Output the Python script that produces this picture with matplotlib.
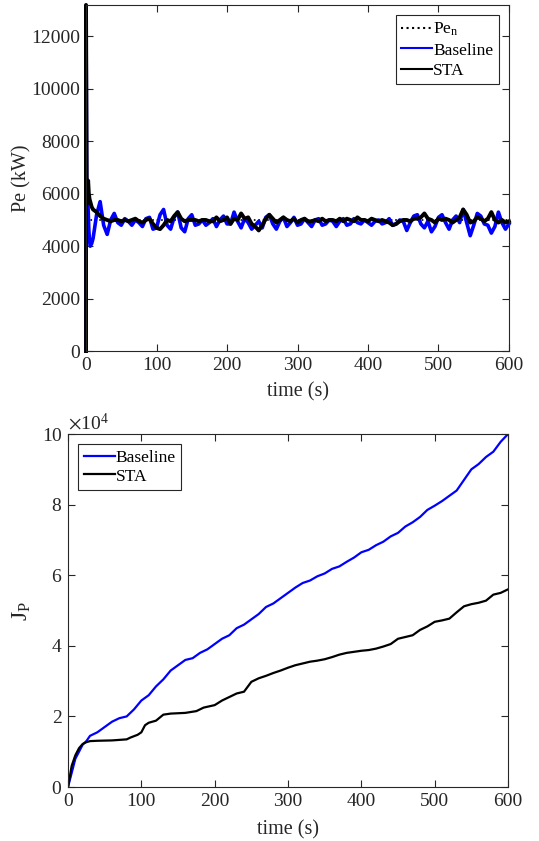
import numpy as np
import matplotlib
matplotlib.use("Agg")
import matplotlib.pyplot as plt
from matplotlib.ticker import ScalarFormatter

plt.rcParams['font.family'] = ['Liberation Serif', 'DejaVu Serif']
plt.rcParams['mathtext.fontset'] = 'stix'
plt.rcParams['font.size'] = 14

# ---- top panel: electrical power ----
t_early = [0, 0, 1, 2, 3, 4, 5, 6, 8]
base_early = [0, 13200, 5500, 5900, 5400, 4600, 4200, 4000, 4100]
sta_early = [0, 13200, 5600, 6000, 6500, 6000, 5800, 5700, 5500]

t_grid = list(range(10, 601, 5))
base_pe = [4300, 5200, 5700, 4800, 4450, 5000, 5250, 4900, 4800, 5050,
           4950, 4800, 5000, 4900, 4750, 5050, 5100, 4650, 4700, 5200,
           5400, 4800, 4650, 5100, 5300, 4700, 4550, 5050, 5200, 4800,
           4850, 5000, 4800, 4900, 5050, 4750, 5000, 5150, 4850, 4850,
           5300, 4950, 4700, 5050, 4900, 4650, 4800, 4950, 4700, 5100,
           5200, 4850, 4650, 4950, 5100, 4750, 4900, 5100, 4800, 4850,
           5050, 4900, 4750, 5000, 5050, 4800, 4850, 5000, 4950, 4750,
           4950, 5050, 4800, 4850, 5050, 4900, 4850, 5000, 4900, 4800,
           4950, 5000, 4850, 4900, 5050, 4800, 4850, 5000, 4950, 4600,
           4900, 5150, 5200, 4850, 4700, 4950, 4550, 4750, 5100, 5200,
           4900, 4650, 5000, 5150, 4900, 5400, 4900, 4400, 4800, 5250,
           5150, 4850, 4800, 4500, 4750, 5300, 4900, 4650, 4850]
sta_pe = [5400, 5300, 5150, 5050, 5000, 4950, 5000, 5000, 4950, 5000,
          4950, 5000, 5050, 4950, 4900, 5000, 5050, 4850, 4700, 4650,
          4800, 5000, 4950, 5150, 5300, 5050, 4950, 5000, 5000, 5000,
          4950, 5000, 5000, 4950, 4950, 5100, 4950, 5000, 5100, 4850,
          5050, 5000, 5250, 5050, 5100, 4850, 4750, 4600, 4800, 5050,
          5200, 5050, 4900, 5000, 5100, 5000, 4950, 5050, 4900, 5000,
          5050, 4950, 4950, 5000, 4950, 5050, 4950, 5000, 5000, 4950,
          5050, 4950, 5050, 5000, 4950, 5100, 5000, 5000, 4950, 5050,
          5000, 4950, 5000, 4950, 4900, 4800, 4850, 4950, 5000, 5000,
          4950, 5050, 5050, 5100, 5250, 5050, 5000, 4900, 5050, 5000,
          5050, 5000, 4900, 5000, 5100, 5400, 5200, 4900, 4950, 5100,
          5050, 4950, 5050, 5300, 5000, 4900, 5000, 4900, 4950]
pe_nominal = 5000

# ---- bottom panel: cost J_P (x1e4) ----
t_jb = [0, 5, 10, 15, 20, 25, 30, 35, 40, 50, 60, 70, 80, 90, 100, 110, 120,
        130, 140, 150, 160, 170, 180, 190, 200, 210, 220, 230, 240, 250, 260,
        270, 280, 290, 300, 310, 320, 330, 340, 350, 360, 370, 380, 390, 400,
        410, 420, 430, 440, 450, 460, 470, 480, 490, 500, 510, 520, 530, 540,
        550, 560, 570, 580, 590, 600]
jp_base = [0, 0.4, 0.8, 1.0, 1.2, 1.3, 1.45, 1.5, 1.55, 1.7, 1.85, 1.95, 2.0,
           2.2, 2.45, 2.6, 2.85, 3.05, 3.3, 3.45, 3.6, 3.65, 3.8, 3.9, 4.05,
           4.2, 4.3, 4.5, 4.6, 4.75, 4.9, 5.1, 5.2, 5.35, 5.5, 5.65, 5.78,
           5.85, 5.97, 6.05, 6.18, 6.25, 6.38, 6.5, 6.65, 6.72, 6.85, 6.95,
           7.1, 7.2, 7.38, 7.5, 7.65, 7.85, 7.97, 8.1, 8.25, 8.4, 8.7, 9.0,
           9.15, 9.35, 9.5, 9.78, 10.0]
t_js = [0, 5, 10, 15, 20, 25, 30, 40, 60, 80, 85, 95, 100, 105, 110, 120, 130,
        140, 160, 175, 185, 200, 210, 220, 230, 240, 250, 260, 270, 280, 290,
        300, 310, 320, 330, 340, 350, 360, 370, 380, 390, 400, 410, 420, 430,
        440, 450, 460, 470, 480, 490, 500, 510, 520, 530, 540, 550, 560, 570,
        580, 590, 600]
jp_sta = [0, 0.6, 0.9, 1.1, 1.22, 1.27, 1.3, 1.31, 1.32, 1.35, 1.4, 1.48,
          1.55, 1.75, 1.82, 1.88, 2.05, 2.08, 2.1, 2.15, 2.25, 2.32, 2.45,
          2.55, 2.65, 2.7, 2.98, 3.08, 3.15, 3.23, 3.3, 3.38, 3.45, 3.5, 3.55,
          3.58, 3.62, 3.68, 3.75, 3.8, 3.83, 3.86, 3.88, 3.92, 3.98, 4.05,
          4.2, 4.25, 4.3, 4.45, 4.55, 4.68, 4.72, 4.77, 4.95, 5.12, 5.18,
          5.22, 5.28, 5.45, 5.5, 5.6]

gray = '#262626'


def style_axes(ax):
    for s in ax.spines.values():
        s.set_color(gray)
        s.set_linewidth(0.8)
    ax.tick_params(direction='in', top=True, right=True, colors=gray,
                   labelsize=14, length=5, width=0.8, pad=4)


def make_legend(ax, loc, spacing):
    leg = ax.legend(loc=loc, fontsize=12.5, frameon=True, fancybox=False,
                    edgecolor=gray, framealpha=1, handlelength=1.8,
                    handletextpad=0.05, borderpad=0.3, labelspacing=spacing,
                    borderaxespad=0.6)
    leg.get_frame().set_linewidth(0.8)
    for txt in leg.get_texts():
        txt.set_color('k')
    return leg


fig = plt.figure(figsize=(5.39, 8.41), dpi=100)

ax1 = fig.add_axes([0.1596, 0.5826, 0.7847, 0.4114])
ax1.plot([0, 600], [pe_nominal, pe_nominal], ':', color='k', lw=1.2, label='Pe$_\\mathregular{n}$')
ax1.plot(t_early + t_grid, base_early + base_pe, color='#0000ff', lw=2.6,
         label='Baseline', clip_on=False)
ax1.plot(t_early + t_grid, sta_early + sta_pe, color='k', lw=2.8,
         label='STA', clip_on=False)
ax1.set_xlim(0, 600)
ax1.set_ylim(0, 13200)
ax1.set_xticks(range(0, 601, 100))
ax1.set_yticks(range(0, 12001, 2000))
ax1.set_xlabel('time (s)', fontsize=14.5, labelpad=6, color=gray)
ax1.set_ylabel('Pe (kW)', fontsize=14.5, labelpad=0, color=gray)
style_axes(ax1)
leg1 = make_legend(ax1, 'upper right', 0.25)
for h in leg1.get_lines():
    h.set_linewidth(1.5)

ax2 = fig.add_axes([0.1262, 0.0642, 0.8163, 0.4197])
ax2.plot(t_jb, np.array(jp_base) * 1e4, color='#0000ff', lw=1.6, label='Baseline')
ax2.plot(t_js, np.array(jp_sta) * 1e4, color='k', lw=1.6, label='STA')
ax2.set_xlim(0, 600)
ax2.set_ylim(0, 1e5)
ax2.set_xticks(range(0, 601, 100))
ax2.set_yticks(np.arange(0, 100001, 20000))
fmt = ScalarFormatter(useMathText=True)
fmt.set_powerlimits((4, 4))
ax2.yaxis.set_major_formatter(fmt)
ax2.yaxis.get_offset_text().set_fontsize(14)
ax2.yaxis.get_offset_text().set_color(gray)
ax2.set_xlabel('time (s)', fontsize=14.5, labelpad=8, color=gray)
ax2.set_ylabel('J$_\\mathregular{P}$', fontsize=17, labelpad=6, color=gray)
style_axes(ax2)
make_legend(ax2, 'upper left', 0.15)

fig.savefig('out.png', dpi=100)
